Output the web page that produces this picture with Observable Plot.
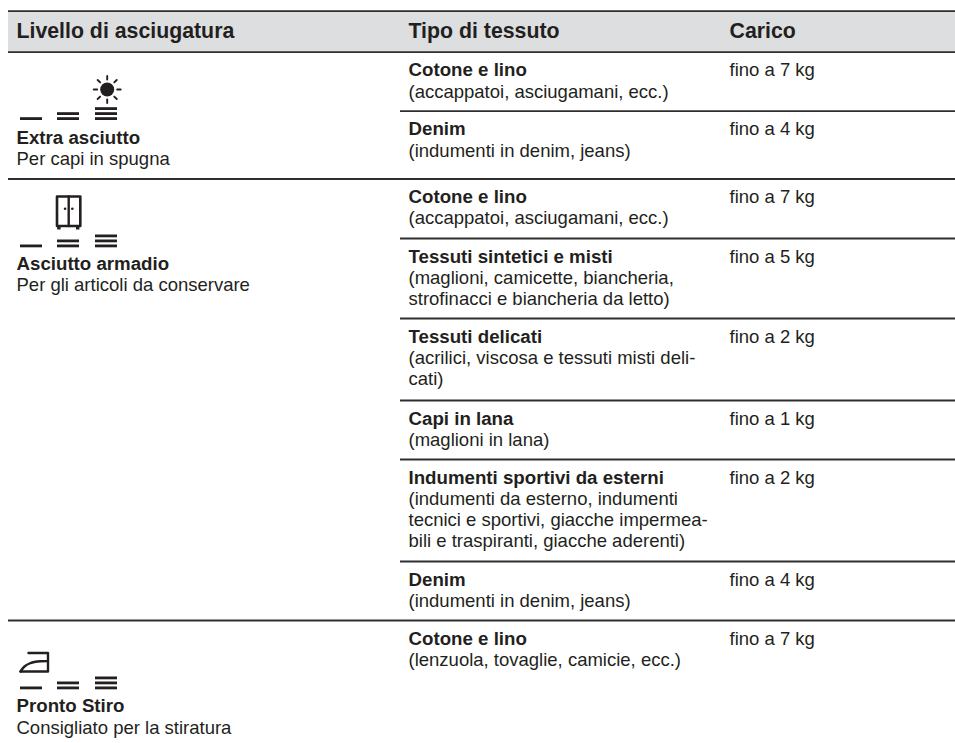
<!DOCTYPE html>
<html lang="it">
<head>
<meta charset="utf-8">
<script src="https://cdn.jsdelivr.net/npm/d3@7"></script>
<script src="https://cdn.jsdelivr.net/npm/@observablehq/plot@0.6"></script>
<style>
html,body{margin:0;padding:0;background:#fff}
svg{display:block}
</style>
</head>
<body>
<div id="chart"></div>
<script>
// ---- content ----
const headers = ["Livello di asciugatura", "Tipo di tessuto", "Carico"];
const levelNames = ["Extra asciutto", "Asciutto armadio", "Pronto Stiro"];
const levelNotes = ["Per capi in spugna", "Per gli articoli da conservare", "Consigliato per la stiratura"];
const fabricNames = ["Cotone e lino", "Denim", "Cotone e lino", "Tessuti sintetici e misti", "Tessuti delicati", "Capi in lana", "Indumenti sportivi da esterni", "Denim", "Cotone e lino"];
const fabricNotes = [
  "(accappatoi, asciugamani, ecc.)",
  "(indumenti in denim, jeans)",
  "(accappatoi, asciugamani, ecc.)",
  "(maglioni, camicette, biancheria,\nstrofinacci e biancheria da letto)",
  "(acrilici, viscosa e tessuti misti deli-\ncati)",
  "(maglioni in lana)",
  "(indumenti da esterno, indumenti\ntecnici e sportivi, giacche impermea-\nbili e traspiranti, giacche aderenti)",
  "(indumenti in denim, jeans)",
  "(lenzuola, tovaglie, camicie, ecc.)"
];
const loadsKg = [7, 4, 7, 5, 2, 1, 2, 4, 7];

// ---- layout (page-pixel scale) ----
const W = 955, H = 743;
const colX = [16, 408, 729];
const rowTops = [51.7, 110.7, 178.5, 238, 318, 400, 459, 561, 620];
const fullRules = [178.5, 620];
const levelNameBase = [143.3, 269.3, 711.7];
const levelBarBase = [120, 247.3, 689.3];
const lh = 21.3, first = 24;
const ink = "#231f20", font = "Liberation Sans, Arial, sans-serif";

const rows = fabricNames.map((n, i) => ({name: n, note: fabricNotes[i], load: `fino a ${loadsKg[i]} kg`, top: rowTops[i]}));
const levels = levelNames.map((n, i) => ({name: n, note: levelNotes[i], base: levelNameBase[i], barBase: levelBarBase[i]}));

// level bars: one, two and three strokes
const barCols = [[20, 42, 1], [57, 79, 2], [95, 117, 3]];
const bars = levels.flatMap(l => barCols.flatMap(([x1, x2, n]) =>
  d3.range(n).map(k => ({x1, x2, y2: l.barBase - 5 * k, y1: l.barBase - 5 * k - 2.8}))));

// sun icon
const sun = {x: 106.7, y: 89};
const rays = d3.range(8).flatMap(k => {
  const a = k * Math.PI / 4;
  return [10, 13.5].map(r => ({k, x: sun.x + r * Math.cos(a), y: sun.y + r * Math.sin(a)}));
});

// wardrobe icon
const ward = [[56.5, 196], [79.8, 196], [79.8, 225.5], [56.5, 225.5], [56.5, 196]];
const wardLines = [[[68.2, 196], [68.2, 225.5]]];
const wardFeet = [{x1: 57.2, x2: 60.6}, {x1: 76, x2: 79.4}];
const wardKnobs = [{x: 64.6, y: 208.3}, {x: 71.8, y: 208.3}];

// iron icon
const ironFrame = [[28, 652.5], [47.5, 652.5], [47.5, 671], [20, 671]];
const ironSole = [[20, 671], [24, 666], [29, 663], [35, 661.2], [41, 660.7], [47.5, 660.6]];

const textOpts = {textAnchor: "start", lineAnchor: "bottom", fontFamily: font, fill: ink};
const rule = (ys, x1) => Plot.ruleY(ys, {x1, x2: W, stroke: "#2e2e2e", strokeWidth: 1.8});

const chart = Plot.plot({
  width: W, height: H,
  margin: 0,
  x: {type: "linear", domain: [0, W], range: [0, W], axis: null},
  y: {type: "linear", domain: [0, H], range: [0, H], axis: null},
  style: {background: "#fff"},
  marks: [
    Plot.rect([0], {x1: 8, x2: W, y1: 10.7, y2: 51.7, fill: "#dcdee0"}),
    rule([10.7, 51.7], 8),
    rule(fullRules, 8),
    rule(rowTops.filter(y => y > 52 && !fullRules.includes(y)), 400),
    Plot.text(headers, {...textOpts, x: (d, i) => colX[i], y: 37, text: d => d, fontWeight: "bold", fontSize: 21.3}),
    // fabric column
    Plot.text(rows, {...textOpts, x: colX[1], y: d => d.top + first, text: "name", fontWeight: "bold", fontSize: 18.7}),
    Plot.text(rows, {...textOpts, x: colX[1], y: d => d.top + first + lh * d.note.split("\n").length, text: "note", fontSize: 18.5, lineHeight: lh / 18.5}),
    Plot.text(rows, {...textOpts, x: colX[2], y: d => d.top + first, text: "load", fontSize: 18.5}),
    // level column
    Plot.text(levels, {...textOpts, x: colX[0], y: "base", text: "name", fontWeight: "bold", fontSize: 18.7}),
    Plot.text(levels, {...textOpts, x: colX[0], y: d => d.base + lh, text: "note", fontSize: 18.5}),
    // icons
    Plot.rect(bars, {x1: "x1", x2: "x2", y1: "y1", y2: "y2", fill: ink}),
    Plot.dot([sun], {x: "x", y: "y", r: 7, fill: ink}),
    Plot.line(rays, {x: "x", y: "y", z: "k", stroke: ink, strokeWidth: 1.9}),
    Plot.line(ward, {x: d => d[0], y: d => d[1], stroke: ink, strokeWidth: 2.6, strokeLinejoin: "round"}),
    Plot.line(wardLines[0], {x: d => d[0], y: d => d[1], stroke: ink, strokeWidth: 2.4}),
    Plot.rect(wardFeet, {x1: "x1", x2: "x2", y1: 226, y2: 229.5, fill: ink}),
    Plot.dot(wardKnobs, {x: "x", y: "y", r: 1.3, fill: ink}),
    Plot.line(ironFrame, {x: d => d[0], y: d => d[1], stroke: ink, strokeWidth: 2.4}),
    Plot.line(ironSole, {x: d => d[0], y: d => d[1], stroke: ink, strokeWidth: 2.4, curve: "catmull-rom"})
  ]
});
document.getElementById("chart").append(chart);
</script>
</body>
</html>
